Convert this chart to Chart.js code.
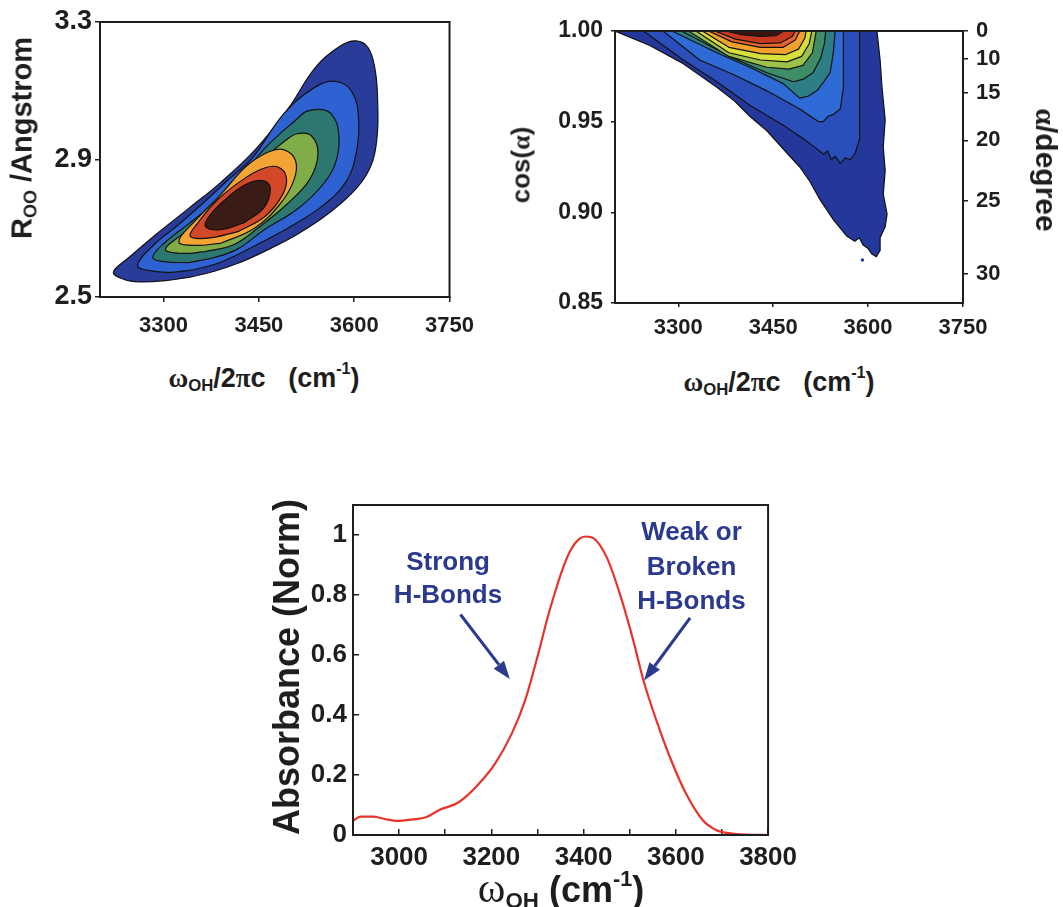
<!DOCTYPE html>
<html>
<head>
<meta charset="utf-8">
<title>OH stretch vs H-bond geometry</title>
<script src="https://cdn.jsdelivr.net/npm/chart.js@4.4.1/dist/chart.umd.min.js"></script>
<style>
    body { margin: 0; background: #fff; }
    #page { position: relative; width: 1063px; height: 907px; overflow: hidden;
            font-family: "Liberation Sans", Arial, sans-serif; font-weight: bold; color: #1e1e1e; }
    canvas { position: absolute; }
    .lbl { position: absolute; white-space: nowrap; line-height: 1; }
    .gk { font-family: "Liberation Serif", "DejaVu Serif", serif; }
    .thin { font-weight: normal; }
    sub { font-size: 0.62em; vertical-align: -0.28em; line-height: 0; }
    sup { font-size: 0.6em; vertical-align: 0.75em; line-height: 0; }
</style>
</head>
<body>
<div id="page">
    <canvas id="rooChart" width="485" height="345" style="left:0px;top:0px"></canvas>
    <canvas id="cosChart" width="543" height="345" style="left:520px;top:0px"></canvas>
    <canvas id="absChart" width="560" height="400" style="left:250px;top:470px"></canvas>

    <div class="lbl" style="left:264px;top:378px;font-size:27px;transform:translate(-50%,-50%)"><span class="gk">ω</span><sub>OH</sub>/2<span class="gk">π</span>c&nbsp;&nbsp;&nbsp;(cm<sup>-1</sup>)</div>
    <div class="lbl" style="left:22px;top:138px;font-size:29px;transform:translate(-50%,-50%) rotate(-90deg)">R<sub>OO</sub>&nbsp;/Angstrom</div>
    <div class="lbl" style="left:779px;top:382px;font-size:27px;transform:translate(-50%,-50%)"><span class="gk">ω</span><sub>OH</sub>/2<span class="gk">π</span>c&nbsp;&nbsp;&nbsp;(cm<sup>-1</sup>)</div>
    <div class="lbl" style="left:521px;top:165px;font-size:26px;transform:translate(-50%,-50%) rotate(-90deg)">cos(<span class="gk">α</span>)</div>
    <div class="lbl" style="left:1046px;top:170px;font-size:30px;transform:translate(-50%,-50%) rotate(90deg)"><span class="gk">α</span>/degree</div>
    <div class="lbl" style="left:287px;top:667px;font-size:36px;transform:translate(-50%,-50%) rotate(-90deg)">Absorbance (Norm)</div>
    <div class="lbl" style="left:561px;top:888px;font-size:36px;transform:translate(-50%,-50%)"><span class="gk thin" style="font-size:42px">ω</span><sub>OH</sub> (cm<sup>-1</sup>)</div>
</div>

<script>
// ---------- top left: R_OO vs frequency ----------
const rooXTicks = [3300, 3450, 3600, 3750];
const rooYTicks = [2.5, 2.9, 3.3];
const rooColors = ['#293c9a', '#2e62d2', '#2c7770', '#80ad48', '#f2a534', '#d4482a', '#3a1b15'];

// contour outlines, outer to inner, [frequency, R_OO]
const rooLevel1 = [[3340, 2.557], [3380, 2.575], [3417, 2.598], [3458, 2.632], [3510, 2.682], [3561, 2.745], [3603, 2.815], [3627, 2.885], [3636, 2.966], [3637, 3.063], [3633, 3.160], [3622, 3.225], [3603, 3.245], [3578, 3.230], [3540, 3.170], [3495, 3.045], [3445, 2.930], [3391, 2.835], [3339, 2.757], [3288, 2.682], [3245, 2.614], [3221, 2.572], [3238, 2.551], [3262, 2.544], [3300, 2.547], [3340, 2.557]];
const rooLevel2 = [[3350, 2.580], [3391, 2.602], [3450, 2.655], [3500, 2.705], [3550, 2.765], [3587, 2.835], [3603, 2.918], [3607, 3.015], [3597, 3.095], [3572, 3.127], [3540, 3.112], [3490, 3.035], [3440, 2.905], [3400, 2.838], [3365, 2.778], [3320, 2.705], [3285, 2.652], [3259, 2.592], [3280, 2.576], [3314, 2.572], [3350, 2.580]];
const rooLevel3 = [[3339, 2.600], [3380, 2.615], [3417, 2.640], [3458, 2.695], [3510, 2.755], [3551, 2.828], [3572, 2.899], [3575, 2.986], [3565, 3.030], [3550, 3.045], [3525, 3.040], [3510, 3.018], [3458, 2.930], [3417, 2.835], [3375, 2.765], [3339, 2.712], [3300, 2.655], [3283, 2.615], [3300, 2.603], [3339, 2.600]];
const rooLevel4 = [[3365, 2.632], [3410, 2.652], [3448, 2.700], [3494, 2.770], [3530, 2.842], [3543, 2.918], [3532, 2.970], [3510, 2.975], [3494, 2.958], [3453, 2.895], [3410, 2.805], [3365, 2.730], [3325, 2.676], [3303, 2.638], [3330, 2.627], [3365, 2.632]];
const rooLevel5 = [[3391, 2.657], [3443, 2.700], [3484, 2.772], [3505, 2.840], [3508, 2.895], [3490, 2.928], [3465, 2.922], [3430, 2.880], [3391, 2.800], [3350, 2.722], [3324, 2.661], [3350, 2.650], [3391, 2.657]];
const rooLevel6 = [[3417, 2.690], [3460, 2.735], [3488, 2.800], [3493, 2.850], [3480, 2.878], [3460, 2.876], [3430, 2.848], [3385, 2.783], [3355, 2.718], [3342, 2.677], [3370, 2.671], [3417, 2.690]];
const rooLevel7 = [[3427, 2.716], [3458, 2.760], [3468, 2.815], [3458, 2.838], [3430, 2.828], [3395, 2.780], [3372, 2.735], [3366, 2.705], [3390, 2.696], [3427, 2.716]];
const rooLevels = [rooLevel1, rooLevel2, rooLevel3, rooLevel4, rooLevel5, rooLevel6, rooLevel7];

// ---------- top right: cos(alpha) vs frequency ----------
const cosXTicks = [3300, 3450, 3600, 3750];
const cosYTicks = [0.85, 0.90, 0.95, 1.00];
const alphaTicks = [0, 10, 15, 20, 25, 30];
const cosColors = ['#24379b', '#2a4fba', '#2f6bd6', '#2e7e86', '#3f8d66', '#9cc24c', '#d9df3a', '#f0a12e', '#e5652a', '#c83820', '#3c1510'];

// lower edge of each band, running from the top edge back to the top edge
const cosLevel1 = [[3200, 1.0], [3255, 0.992], [3308, 0.982], [3361, 0.969], [3387, 0.962], [3413, 0.953], [3440, 0.945], [3471, 0.933], [3492, 0.925], [3508, 0.917], [3524, 0.907], [3545, 0.896], [3566, 0.887], [3579, 0.884], [3586, 0.886], [3592, 0.882], [3600, 0.880], [3606, 0.877], [3613, 0.8755], [3619, 0.879], [3619, 0.886], [3627, 0.892], [3630, 0.899], [3624, 0.910], [3627, 0.923], [3624, 0.936], [3627, 0.951], [3622, 0.969], [3619, 0.984], [3614, 1.0]];
const cosLevel2 = [[3245, 1.0], [3308, 0.984], [3361, 0.972], [3413, 0.959], [3466, 0.948], [3500, 0.940], [3519, 0.935], [3530, 0.932], [3536, 0.934], [3542, 0.929], [3548, 0.931], [3556, 0.927], [3564, 0.930], [3572, 0.929], [3580, 0.933], [3586, 0.940], [3587, 0.955], [3586, 0.975], [3587, 1.0]];
const cosLevel3 = [[3276, 1.0], [3334, 0.984], [3387, 0.976], [3440, 0.967], [3492, 0.957], [3513, 0.952], [3522, 0.950], [3529, 0.950], [3537, 0.953], [3545, 0.954], [3556, 0.957], [3561, 0.969], [3561, 0.988], [3561, 1.0]];
const cosLevel4 = [[3290, 1.0], [3361, 0.988], [3413, 0.980], [3466, 0.971], [3492, 0.963], [3505, 0.964], [3519, 0.967], [3530, 0.972], [3540, 0.977], [3545, 0.988], [3548, 1.0]];
const cosLevel5 = [[3305, 1.0], [3387, 0.985], [3440, 0.977], [3482, 0.972], [3498, 0.9735], [3513, 0.977], [3525, 0.985], [3531, 0.993], [3533, 1.0]];
const cosLevel6 = [[3316, 1.0], [3380, 0.986], [3440, 0.980], [3475, 0.979], [3497, 0.981], [3512, 0.988], [3518, 1.0]];
const cosLevel7 = [[3328, 1.0], [3380, 0.988], [3430, 0.984], [3472, 0.983], [3495, 0.986], [3507, 0.993], [3511, 1.0]];
const cosLevel8 = [[3338, 1.0], [3380, 0.991], [3430, 0.9875], [3470, 0.987], [3490, 0.990], [3500, 0.996], [3502, 1.0]];
const cosLevel9 = [[3348, 1.0], [3385, 0.994], [3430, 0.991], [3466, 0.991], [3485, 0.995], [3492, 1.0]];
const cosLevel10 = [[3358, 1.0], [3390, 0.9955], [3430, 0.993], [3462, 0.9935], [3480, 0.997], [3485, 1.0]];
const cosLevel11 = [[3375, 1.0], [3400, 0.998], [3430, 0.997], [3455, 0.9975], [3467, 1.0]];
const cosLevels = [cosLevel1, cosLevel2, cosLevel3, cosLevel4, cosLevel5, cosLevel6, cosLevel7, cosLevel8, cosLevel9, cosLevel10, cosLevel11];
const cosStray = [[3591, 0.8737]];

// ---------- bottom: normalised absorbance ----------
const absFreq = [2900, 2916, 2944, 2973, 2994, 3030, 3058, 3087, 3130, 3173, 3208, 3244, 3273, 3301, 3322, 3337, 3355, 3372, 3390, 3405, 3422, 3451, 3479, 3508, 3530, 3558, 3587, 3622, 3658, 3687, 3715, 3750, 3800];
const absValue = [0.047, 0.061, 0.061, 0.052, 0.047, 0.052, 0.059, 0.083, 0.110, 0.171, 0.238, 0.337, 0.448, 0.600, 0.725, 0.804, 0.889, 0.950, 0.986, 0.995, 0.989, 0.923, 0.802, 0.647, 0.514, 0.381, 0.260, 0.138, 0.050, 0.017, 0.006, 0.001, 0.0];
const absXTicks = [3000, 3100, 3200, 3300, 3400, 3500, 3600, 3700, 3800];
const absYTicks = [0, 0.2, 0.4, 0.6, 0.8, 1];

const strongText = ['Strong', 'H-Bonds'];
const strongTextX = 3106;
const strongTextY = [0.906, 0.796];
const strongArrow = [[3133, 0.735], [3240, 0.52]];
const weakText = ['Weak or', 'Broken', 'H-Bonds'];
const weakTextX = 3634;
const weakTextY = [1.006, 0.890, 0.778];
const weakArrow = [[3631, 0.724], [3531, 0.515]];

const FONT = "'Liberation Sans', Arial, sans-serif";
const INK = '#1e1e1e';
const NOTE_BLUE = '#2c3a8e';

// helpers for fixed axis boxes and hand picked ticks
function fixWidth(w) {
    return function (scale) { scale.width = w; };
}
function fixHeight(h) {
    return function (scale) { scale.height = h; };
}
function useTicks(values) {
    return function (scale) { scale.ticks = values.map(v => ({ value: v })); };
}

function axis(opts) {
    return Object.assign({
        type: 'linear',
        grid: { drawOnChartArea: false, drawTicks: true, tickLength: 5, color: INK, lineWidth: 1.5 },
        border: { display: true, color: INK, width: 2 },
    }, opts);
}

// box round the plot area
const frame = {
    id: 'frame',
    afterDraw(chart) {
        const a = chart.chartArea;
        const ctx = chart.ctx;
        ctx.save();
        ctx.strokeStyle = INK;
        ctx.lineWidth = 2;
        ctx.strokeRect(a.left, a.top, a.right - a.left, a.bottom - a.top);
        ctx.restore();
    }
};

function contour(points, color, order, tension) {
    return {
        data: points.map(p => ({ x: p[0], y: p[1] })),
        backgroundColor: color,
        borderColor: '#121212',
        borderWidth: 1.2,
        borderJoinStyle: 'round',
        fill: 'shape',
        tension: tension,
        pointRadius: 0,
        order: order
    };
}

const common = {
    responsive: false,
    animation: false,
    events: [],
    plugins: { legend: { display: false }, tooltip: { enabled: false } }
};

// top left chart
new Chart(document.getElementById('rooChart'), {
    type: 'line',
    data: { datasets: rooLevels.map((pts, i) => contour(pts, rooColors[i], rooLevels.length - i, 0.4)) },
    options: Object.assign({}, common, {
        layout: { padding: { top: 22, right: 30, left: 0, bottom: 0 } },
        scales: {
            x: axis({
                min: 3200, max: 3750,
                afterBuildTicks: useTicks(rooXTicks),
                afterFit: fixHeight(48),
                ticks: { color: INK, padding: 11, maxRotation: 0, autoSkip: false,
                         font: { family: FONT, size: 22, weight: 'bold' }, callback: v => String(v) }
            }),
            y: axis({
                min: 2.5, max: 3.3,
                afterBuildTicks: useTicks(rooYTicks),
                afterFit: fixWidth(100),
                ticks: { color: INK, padding: 3, font: { family: FONT, size: 27, weight: 'bold' }, callback: v => v.toFixed(1) }
            })
        }
    }),
    plugins: [frame]
});

// top right chart
const cosSets = cosLevels.map((pts, i) => contour(pts, cosColors[i], cosLevels.length - i, 0));
cosSets.push({
    data: cosStray.map(p => ({ x: p[0], y: p[1] })),
    showLine: false,
    pointRadius: 1.7,
    pointBorderWidth: 0,
    pointBackgroundColor: '#24379b',
    order: 0
});

new Chart(document.getElementById('cosChart'), {
    type: 'line',
    data: { datasets: cosSets },
    options: Object.assign({}, common, {
        layout: { padding: { top: 31, right: 0, left: 0, bottom: 0 } },
        scales: {
            x: axis({
                min: 3200, max: 3750,
                afterBuildTicks: useTicks(cosXTicks),
                afterFit: fixHeight(42),
                grid: { drawOnChartArea: false, tickLength: 4, color: INK, lineWidth: 1.5 },
                ticks: { color: INK, padding: 8, maxRotation: 0, autoSkip: false,
                         font: { family: FONT, size: 22, weight: 'bold' }, callback: v => String(v) }
            }),
            y: axis({
                min: 0.85, max: 1.0,
                afterBuildTicks: useTicks(cosYTicks),
                afterFit: fixWidth(95),
                grid: { drawOnChartArea: false, tickLength: 4, color: INK, lineWidth: 1.5 },
                ticks: { color: INK, padding: 8, font: { family: FONT, size: 23, weight: 'bold' }, callback: v => v.toFixed(2) }
            }),
            // angle axis: ticks sit at cos(alpha)
            y2: axis({
                position: 'right',
                min: 0.85, max: 1.0,
                afterBuildTicks: function (scale) {
                    scale.ticks = alphaTicks.map(a => ({ value: Math.cos(a * Math.PI / 180) }));
                },
                afterFit: fixWidth(100),
                ticks: { color: INK, padding: 8, font: { family: FONT, size: 22, weight: 'bold' },
                         callback: (v, i) => String(alphaTicks[i]) }
            })
        }
    }),
    plugins: [frame]
});

// arrows and blue notes on the spectrum
function drawArrow(ctx, xs, ys, seg) {
    const x0 = xs.getPixelForValue(seg[0][0]), y0 = ys.getPixelForValue(seg[0][1]);
    const x1 = xs.getPixelForValue(seg[1][0]), y1 = ys.getPixelForValue(seg[1][1]);
    const ang = Math.atan2(y1 - y0, x1 - x0);
    const head = 18, half = 6.5;
    const bx = x1 - head * Math.cos(ang), by = y1 - head * Math.sin(ang);
    ctx.lineWidth = 3;
    ctx.beginPath();
    ctx.moveTo(x0, y0);
    ctx.lineTo(bx, by);
    ctx.stroke();
    ctx.beginPath();
    ctx.moveTo(x1, y1);
    ctx.lineTo(bx + half * Math.sin(ang), by - half * Math.cos(ang));
    ctx.lineTo(bx - half * Math.sin(ang), by + half * Math.cos(ang));
    ctx.closePath();
    ctx.fill();
}

const notes = {
    id: 'notes',
    afterDatasetsDraw(chart) {
        const ctx = chart.ctx;
        const xs = chart.scales.x, ys = chart.scales.y;
        ctx.save();
        ctx.fillStyle = NOTE_BLUE;
        ctx.strokeStyle = NOTE_BLUE;
        ctx.font = 'bold 26px ' + FONT;
        ctx.textAlign = 'center';
        ctx.textBaseline = 'middle';
        strongText.forEach((t, i) => ctx.fillText(t, xs.getPixelForValue(strongTextX), ys.getPixelForValue(strongTextY[i])));
        weakText.forEach((t, i) => ctx.fillText(t, xs.getPixelForValue(weakTextX), ys.getPixelForValue(weakTextY[i])));
        drawArrow(ctx, xs, ys, strongArrow);
        drawArrow(ctx, xs, ys, weakArrow);
        ctx.restore();
    }
};

// bottom chart
new Chart(document.getElementById('absChart'), {
    type: 'line',
    data: {
        datasets: [{
            data: absFreq.map((f, i) => ({ x: f, y: absValue[i] })),
            borderColor: '#e8332b',
            borderWidth: 2.2,
            pointRadius: 0,
            fill: false,
            cubicInterpolationMode: 'monotone'
        }]
    },
    options: Object.assign({}, common, {
        layout: { padding: { top: 35, right: 37, left: 0, bottom: 0 } },
        scales: {
            x: axis({
                min: 2900, max: 3800,
                afterBuildTicks: useTicks(absXTicks),
                afterFit: fixHeight(35),
                grid: { drawOnChartArea: false, tickLength: -6, color: INK, lineWidth: 1.5 },
                ticks: { color: INK, padding: 13, maxRotation: 0, minRotation: 0, autoSkip: false,
                         font: { family: FONT, size: 26, weight: 'bold' },
                         callback: v => (v % 200 === 0 ? String(v) : '') }
            }),
            y: axis({
                min: 0, max: 1.1,
                afterBuildTicks: useTicks(absYTicks),
                afterFit: fixWidth(103),
                grid: { drawOnChartArea: false, tickLength: -6, color: INK, lineWidth: 1.5 },
                ticks: { color: INK, padding: 12, font: { family: FONT, size: 26, weight: 'bold' }, callback: v => String(v) }
            })
        }
    }),
    plugins: [frame, notes]
});
</script>
</body>
</html>
